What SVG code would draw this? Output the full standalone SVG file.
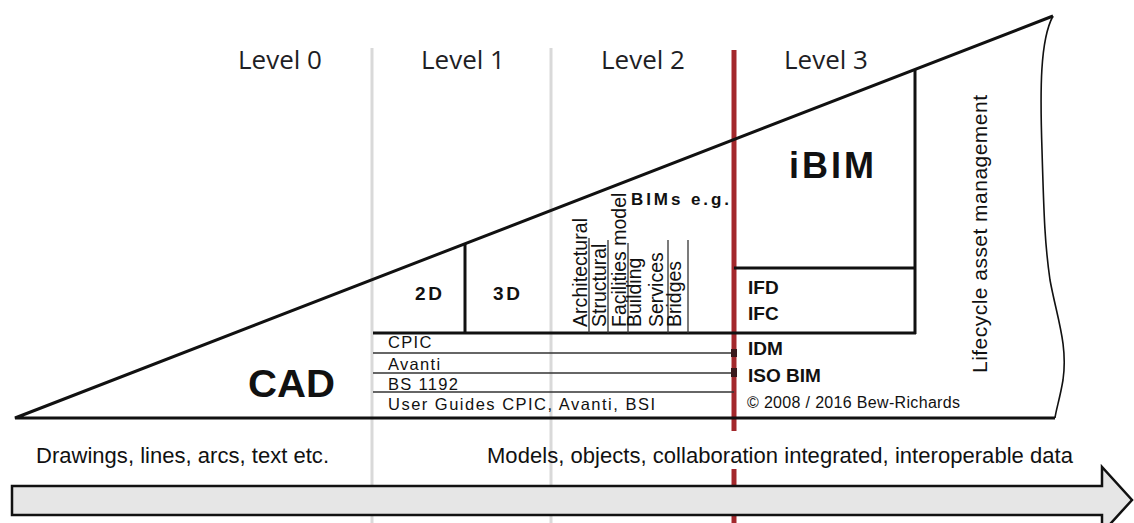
<svg xmlns="http://www.w3.org/2000/svg" width="1134" height="523" viewBox="0 0 1134 523">
<style>
.lvl{font-family:"Open Sans","DejaVu Sans",sans-serif;font-size:26px;fill:#1e1e24;text-anchor:middle}
.b{font-family:"Liberation Sans",Arial,sans-serif;font-weight:bold;fill:#111}
.r{font-family:"Liberation Sans",Arial,sans-serif;fill:#111}
.rot{font-family:"Liberation Sans",Arial,sans-serif;font-size:19.5px;fill:#111}
.sep{stroke:#d9d9d9;stroke-width:3;fill:none}
.thick{stroke:#111;stroke-width:3;fill:none}
.thin{stroke:#333;stroke-width:1.3;fill:none}
</style>
<rect width="1134" height="523" fill="#ffffff"/>

<g id="level-separators">
<line class="sep" x1="372" y1="48" x2="372" y2="523"/>
<line class="sep" x1="551" y1="48" x2="551" y2="523"/>
<line x1="734" y1="50" x2="734" y2="431" stroke="#a3282c" stroke-width="5"/>
<line x1="734" y1="469" x2="734" y2="523" stroke="#a3282c" stroke-width="5"/>
</g>

<g id="level-labels">
<text class="lvl" x="280" y="69">Level 0</text>
<text class="lvl" x="463" y="69">Level 1</text>
<text class="lvl" x="643" y="69">Level 2</text>
<text class="lvl" x="826" y="69">Level 3</text>
</g>

<g id="triangle">
<path class="thick" d="M1053,16 L15,418 L1055,418"/>
<path d="M1053,16 C1040,40 1040,90 1042,150 C1044,220 1045,245 1050,280 C1057,318 1068,345 1063,380 C1060,398 1056,410 1055,418" fill="none" stroke="#111" stroke-width="1.6"/>
</g>

<g id="cad">
<text class="b" x="248" y="397" font-size="38" textLength="87" lengthAdjust="spacingAndGlyphs">CAD</text>
</g>

<g id="level1-boxes">
<line class="thick" x1="373" y1="333" x2="916" y2="333"/>
<line class="thick" x1="465" y1="244" x2="465" y2="333"/>
<text class="b" x="415" y="300" font-size="19" textLength="27">2D</text>
<text class="b" x="493" y="300" font-size="19" textLength="27">3D</text>
</g>

<g id="standards">
<line class="thin" x1="373" y1="353" x2="734" y2="353"/>
<line class="thin" x1="373" y1="373" x2="734" y2="373"/>
<line class="thin" x1="373" y1="392" x2="734" y2="392"/>
<rect x="731" y="349" width="6" height="8" fill="#3a1a1c"/>
<rect x="731" y="368" width="6" height="9" fill="#3a1a1c"/>
<text class="r" x="388" y="348" font-size="16.5" letter-spacing="1.3">CPIC</text>
<text class="r" x="388" y="370" font-size="16.5" letter-spacing="1.3">Avanti</text>
<text class="r" x="388" y="390" font-size="16.5" letter-spacing="1.3">BS 1192</text>
<text class="r" x="388" y="410" font-size="16.5" textLength="267">User Guides CPIC, Avanti, BSI</text>
</g>

<g id="bims">
<text class="b" x="631" y="205" font-size="17" textLength="98">BIMs e.g.</text>
<line class="thin" x1="589" y1="238" x2="589" y2="333"/>
<line class="thin" x1="608" y1="240" x2="608" y2="333"/>
<line class="thin" x1="628" y1="243" x2="628" y2="333"/>
<line class="thin" x1="668" y1="240" x2="668" y2="333"/>
<line class="thin" x1="688" y1="240" x2="688" y2="333"/>
<text class="rot" transform="translate(587,327) rotate(-90)" textLength="109">Architectural</text>
<text class="rot" transform="translate(606,327) rotate(-90)">Structural</text>
<text class="rot" transform="translate(626,327) rotate(-90)">Facilities model</text>
<text class="rot" transform="translate(641,327) rotate(-90)">Building</text>
<text class="rot" transform="translate(663,327) rotate(-90)">Services</text>
<text class="rot" transform="translate(681,327) rotate(-90)">Bridges</text>
</g>

<g id="level3">
<line class="thick" x1="915" y1="69" x2="915" y2="334"/>
<line class="thick" x1="734" y1="268" x2="916" y2="268"/>
<text class="b" x="789" y="178" font-size="36" textLength="85">iBIM</text>
<text class="b" x="748" y="294" font-size="19">IFD</text>
<text class="b" x="748" y="320" font-size="19">IFC</text>
<text class="b" x="748" y="355" font-size="19">IDM</text>
<text class="b" x="748" y="382" font-size="19">ISO BIM</text>
<text class="r" x="747" y="408" font-size="16" textLength="213">© 2008 / 2016 Bew-Richards</text>
</g>

<g id="lifecycle">
<text class="r" font-size="21" transform="translate(987,373) rotate(-90)" textLength="278">Lifecycle asset management</text>
</g>

<g id="bottom-labels">
<text class="r" x="36" y="463" font-size="22" textLength="293">Drawings, lines, arcs, text etc.</text>
<text class="r" x="487" y="463" font-size="22" textLength="586">Models, objects, collaboration integrated, interoperable data</text>
</g>

<g id="connectors">
<path d="M12,486 H1102 V467 L1132,500 L1102,533 V515 H12 Z" fill="#e6e6e6" stroke="#111" stroke-width="2.5"/>
</g>
</svg>
